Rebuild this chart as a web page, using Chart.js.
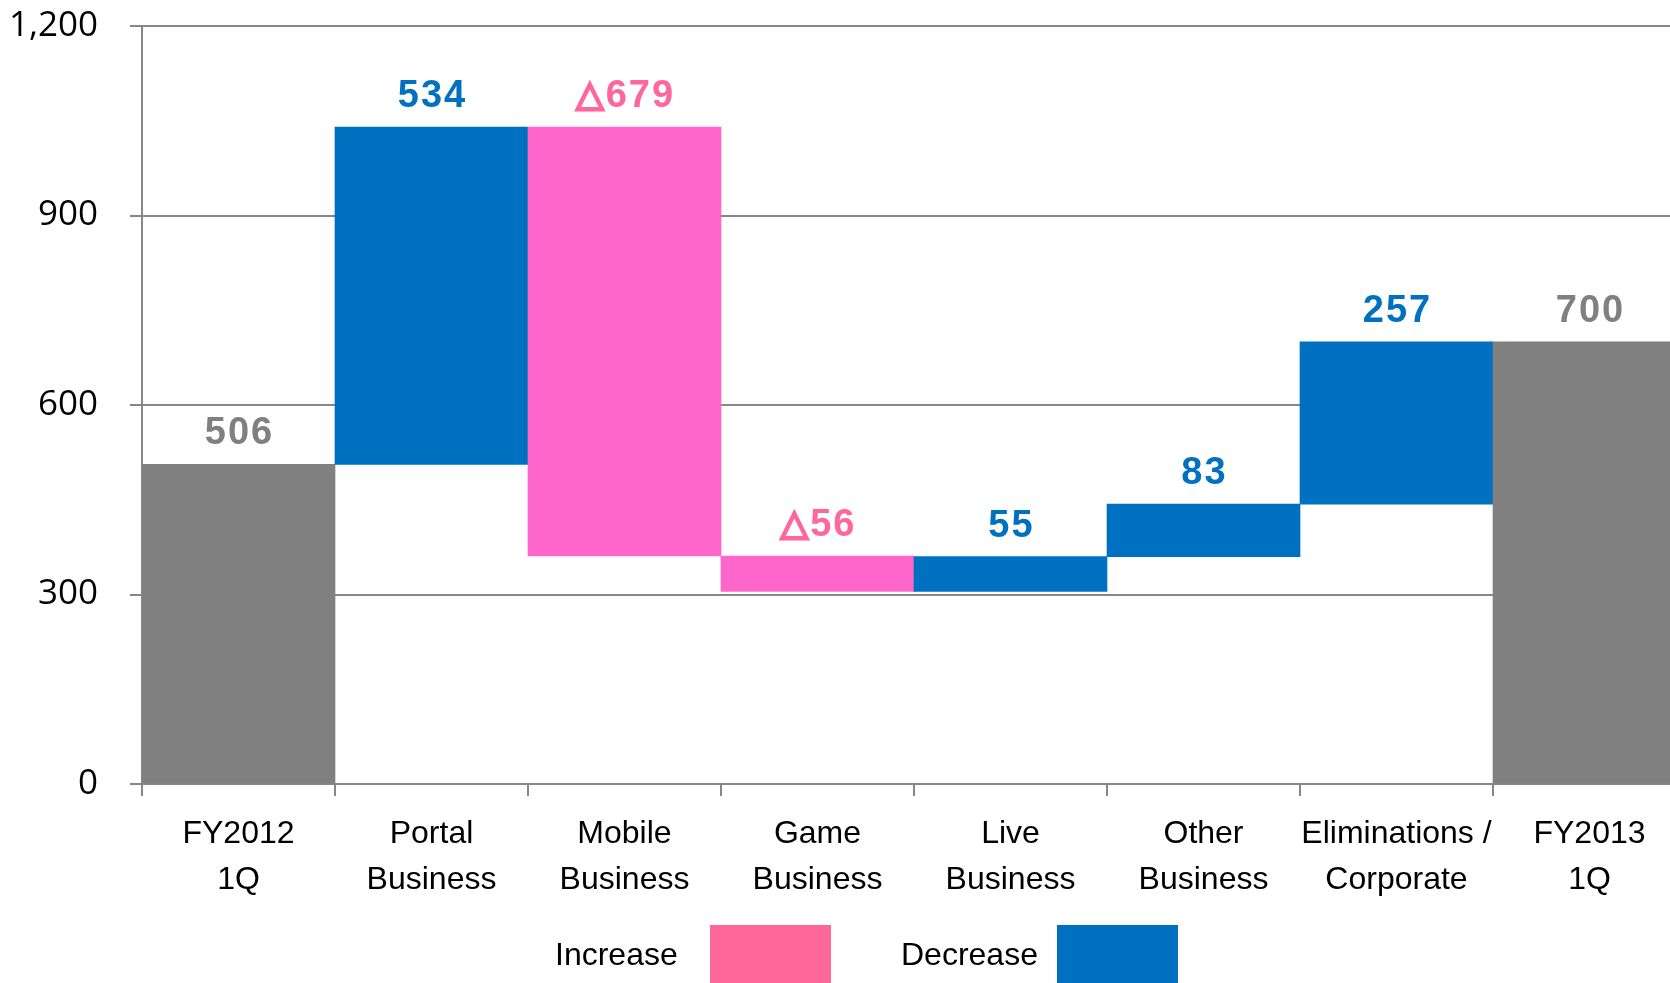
<!DOCTYPE html>
<html>
<head>
<meta charset="utf-8">
<script src="https://cdn.jsdelivr.net/npm/chart.js@4"></script>
<style>
  html, body { margin: 0; padding: 0; background: #fff; overflow: hidden; width: 1670px; height: 983px; }
  #wrap { width: 1700px; height: 983px; }
</style>
</head>
<body>
<div id="wrap"><canvas id="waterfall"></canvas></div>
<script>
// data
const categories = [
  ['FY2012', '1Q'], ['Portal', 'Business'], ['Mobile', 'Business'], ['Game', 'Business'],
  ['Live', 'Business'], ['Other', 'Business'], ['Eliminations /', 'Corporate'], ['FY2013', '1Q']
];
const changes = [506, 534, -679, -56, 55, 83, 257, 700];
const barKinds = ['total', 'up', 'down', 'down', 'up', 'up', 'up', 'total'];
const valueLabels = ['506', '534', '△679', '△56', '55', '83', '257', '700'];
const yTicks = [0, 300, 600, 900, 1200];
const legendLabels = ['Increase', 'Decrease'];

const barColors = { total: '#808080', up: '#0070C0', down: '#FF66CC' };
const labelColors = { total: '#808080', up: '#0070C0', down: '#FF6699' };
const legendColors = ['#FF6699', '#0070C0'];

// floating ranges for the waterfall
let running = 0;
const ranges = changes.map((v, i) => {
  if (barKinds[i] === 'total') { running = v; return [0, v]; }
  const from = running;
  running += v;
  return [from, running];
});

const gray = '#878787';
const digitFont = 'bold 38px "Liberation Sans", Arial, sans-serif';
const triFont = 'bold 36px "DejaVu Sans", sans-serif';

const valueLabelPlugin = {
  id: 'valueLabels',
  afterDatasetsDraw(chart) {
    const ctx = chart.ctx;
    const meta = chart.getDatasetMeta(0);
    ctx.save();
    ctx.letterSpacing = '2px';
    ctx.textAlign = 'left';
    ctx.textBaseline = 'alphabetic';
    meta.data.forEach((bar, i) => {
      const top = Math.min(bar.y, bar.base);
      const txt = valueLabels[i];
      const hasTri = txt.startsWith('△');
      const digits = hasTri ? txt.slice(1) : txt;
      ctx.font = triFont;
      const tw = hasTri ? ctx.measureText('△').width : 0;
      ctx.font = digitFont;
      const dw = ctx.measureText(digits).width - 2;
      let x = bar.x - (tw + dw) / 2;
      const y = top - 20;
      ctx.fillStyle = labelColors[barKinds[i]];
      ctx.strokeStyle = labelColors[barKinds[i]];
      if (hasTri) {
        ctx.font = triFont;
        ctx.lineWidth = 2.5;
        ctx.lineJoin = 'miter';
        ctx.fillText('△', x, y - 1);
        ctx.strokeText('△', x, y - 1);
        x += tw;
        ctx.font = digitFont;
      }
      ctx.fillText(digits, x, y);
    });
    ctx.restore();
  }
};

const legendPlugin = {
  id: 'sideLegend',
  afterDraw(chart) {
    const ctx = chart.ctx;
    const items = [
      { textX: 555, boxX: 710 },
      { textX: 901, boxX: 1057 }
    ];
    ctx.save();
    ctx.font = '32px "Liberation Sans", Arial, sans-serif';
    ctx.textBaseline = 'alphabetic';
    ctx.textAlign = 'left';
    items.forEach((it, i) => {
      ctx.fillStyle = '#000';
      ctx.fillText(legendLabels[i], it.textX, 965);
      ctx.fillStyle = legendColors[i];
      ctx.fillRect(it.boxX, 925, 121, 58);
    });
    ctx.restore();
  }
};

new Chart(document.getElementById('waterfall'), {
  type: 'bar',
  data: {
    labels: categories,
    datasets: [{
      data: ranges,
      backgroundColor: barKinds.map(k => barColors[k]),
      borderWidth: 0,
      barPercentage: 1,
      categoryPercentage: 1
    }]
  },
  options: {
    responsive: true,
    maintainAspectRatio: false,
    animation: false,
    layout: { padding: { top: 26, right: 14, left: 0, bottom: 0 } },
    plugins: {
      legend: { display: false },
      tooltip: { enabled: false }
    },
    scales: {
      x: {
        grid: {
          display: true,
          offset: true,
          drawOnChartArea: false,
          drawTicks: true,
          tickLength: 12,
          color: gray,
          lineWidth: 2
        },
        border: { display: true, color: gray, width: 2 },
        ticks: {
          color: '#000',
          font: { family: '"Liberation Sans", Arial, sans-serif', size: 32, lineHeight: 1.45 },
          padding: 15,
          maxRotation: 0,
          autoSkip: false
        },
        afterFit(scale) { scale.height = 199; }
      },
      y: {
        min: 0,
        max: 1200,
        afterBuildTicks(scale) { scale.ticks = yTicks.map(v => ({ value: v })); },
        grid: {
          color: gray,
          lineWidth: 2,
          drawTicks: true,
          tickLength: 12
        },
        border: { display: true, color: gray, width: 2 },
        ticks: {
          color: '#000',
          font: { family: '"Open Sans", sans-serif', size: 35 },
          padding: 32,
          callback: v => v.toLocaleString('en-US')
        },
        afterFit(scale) {
          scale.width = 142;
          scale.paddingTop = 0;
          scale.paddingBottom = 0;
        }
      }
    }
  },
  plugins: [valueLabelPlugin, legendPlugin]
});
</script>
</body>
</html>
